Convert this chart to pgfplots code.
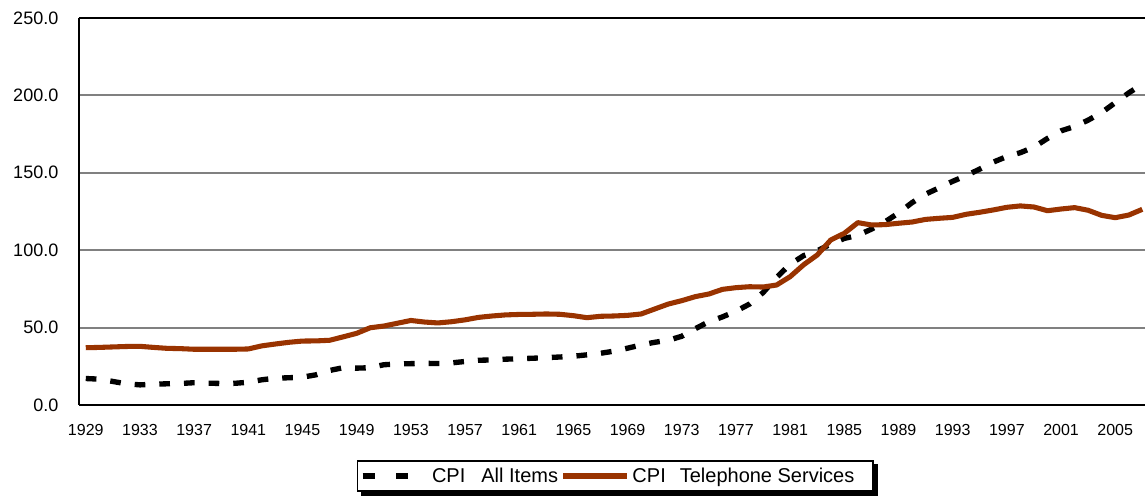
\documentclass[border=0pt]{standalone}
\usepackage{fontspec}
\setmainfont{Liberation Sans}
\usepackage{pgfplots}
\pgfplotsset{compat=1.18}
\definecolor{telred}{RGB}{153,51,0}
\definecolor{gridgray}{RGB}{128,128,128}

\begin{document}
\begin{tikzpicture}
\path[use as bounding box] (-59.25pt,-69.75pt) rectangle (799.5pt,303.75pt);
\begin{axis}[
  scale only axis, width=799.5pt, height=290.25pt,
  xmin=1928.5, xmax=2007.2, ymin=0, ymax=250,
  axis lines*=left,
  axis line style={line width=1.5pt, black},
  xtick={1929,1933,...,2005},
  ytick={0,50,...,250},
  major tick length=0pt,
  ymajorgrids,
  grid style={gridgray, line width=1.5pt},
  xticklabel style={font=\fontsize{12}{14}\selectfont},
  yticklabel style={font=\fontsize{13.5}{16}\selectfont},
  /pgf/number format/assume math mode=true,
  xticklabel style={/pgf/number format/1000 sep={}, anchor=north, yshift=-11pt},
  yticklabel style={/pgf/number format/fixed, /pgf/number format/fixed zerofill,
     /pgf/number format/precision=1, anchor=east, xshift=-12pt},
  legend style={at={(axis description cs:0.503,-0.1835)}, anchor=center,
     name=leg,
     legend columns=2, draw=black, line width=1pt,
     font=\fontsize{15}{18}\selectfont,
     fill=white, inner xsep=2pt, inner ysep=3pt,
     /tikz/every odd column/.append style={column sep=0pt}},
  legend cell align=left,
  legend image code/.code={\draw[#1] (0pt,0pt) -- (48pt,0pt);},
  clip=true,
]
\addlegendimage{black, line width=4pt, dash pattern=on 9pt off 16pt}
\addlegendentry{CPI\hspace{0.8em}All Items}
\addlegendimage{telred, line width=3.8pt}
\addlegendentry{CPI\hspace{0.7em}Telephone Services\kern10pt}
\addplot[black, line width=4pt, dash pattern=on 8pt off 10.5pt, forget plot] coordinates {
(1929,17.1)(1930,16.7)(1931,15.2)(1932,13.7)(1933,13.0)(1934,13.4)(1935,13.7)
(1936,13.9)(1937,14.4)(1938,14.1)(1939,13.9)(1940,14.0)(1941,14.7)(1942,16.3)
(1943,17.3)(1944,17.6)(1945,18.0)(1946,19.5)(1947,22.3)(1948,24.1)(1949,23.8)
(1950,24.1)(1951,26.0)(1952,26.5)(1953,26.7)(1954,26.9)(1955,26.8)(1956,27.2)
(1957,28.1)(1958,28.9)(1959,29.1)(1960,29.6)(1961,29.9)(1962,30.2)(1963,30.6)
(1964,31.0)(1965,31.5)(1966,32.4)(1967,33.4)(1968,34.8)(1969,36.7)(1970,38.8)
(1971,40.5)(1972,41.8)(1973,44.4)(1974,49.3)(1975,53.8)(1976,56.9)(1977,60.6)
(1978,65.2)(1979,72.6)(1980,82.4)(1981,90.9)(1982,96.5)(1983,99.6)(1984,103.9)
(1985,107.6)(1986,109.6)(1987,113.6)(1988,118.3)(1989,124.0)(1990,130.7)
(1991,136.2)(1992,140.3)(1993,144.5)(1994,148.2)(1995,152.4)(1996,156.9)
(1997,160.5)(1998,163.0)(1999,166.6)(2000,172.2)(2001,177.1)(2002,179.9)
(2003,184.0)(2004,188.9)(2005,195.3)(2006,201.6)(2007,207.3)
};
\addplot[telred, line width=3.8pt, line join=round, forget plot] coordinates {
(1929,37.0)(1930,37.2)(1931,37.5)(1932,37.8)(1933,37.9)(1934,37.2)(1935,36.6)
(1936,36.4)(1937,36.0)(1938,36.0)(1939,36.0)(1940,36.0)(1941,36.2)(1942,38.2)
(1943,39.4)(1944,40.5)(1945,41.3)(1946,41.4)(1947,41.8)(1948,44.0)(1949,46.3)
(1950,49.9)(1951,51.0)(1952,52.8)(1953,54.6)(1954,53.6)(1955,53.0)(1956,53.8)
(1957,55.0)(1958,56.6)(1959,57.5)(1960,58.2)(1961,58.5)(1962,58.6)(1963,58.8)
(1964,58.6)(1965,57.7)(1966,56.4)(1967,57.3)(1968,57.5)(1969,57.9)(1970,58.8)
(1971,62.0)(1972,65.2)(1973,67.4)(1974,70.0)(1975,71.7)(1976,74.7)(1977,75.8)
(1978,76.4)(1979,76.2)(1980,77.5)(1981,82.9)(1982,90.6)(1983,96.9)(1984,106.6)
(1985,110.9)(1986,117.8)(1987,116.3)(1988,116.5)(1989,117.4)(1990,118.2)
(1991,119.9)(1992,120.6)(1993,121.2)(1994,123.2)(1995,124.5)(1996,126.0)
(1997,127.7)(1998,128.6)(1999,127.9)(2000,125.5)(2001,126.6)(2002,127.5)
(2003,125.8)(2004,122.5)(2005,121.0)(2006,122.7)(2007,126.4)
};
\draw[black, line width=1.5pt] (axis cs:1928.5,250) -- (axis cs:2007.2,250);
\end{axis}
\fill[black] ([shift={(0.5pt,-3pt)}]leg.north east) rectangle ([shift={(3pt,-3pt)}]leg.south east);
\fill[black] ([shift={(3pt,-0.5pt)}]leg.south west) rectangle ([shift={(3pt,-3pt)}]leg.south east);
\end{tikzpicture}
\end{document}
